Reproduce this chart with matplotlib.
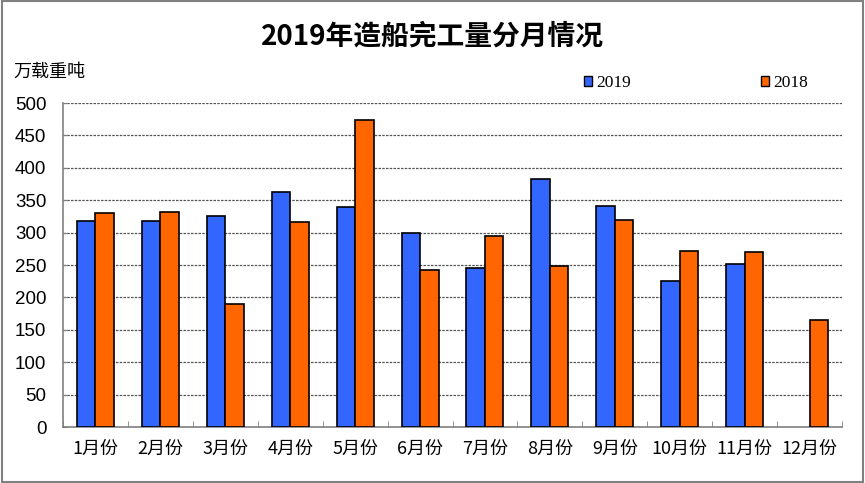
import matplotlib
matplotlib.use("Agg")
import matplotlib.pyplot as plt
import numpy as np
from matplotlib.patches import Rectangle

plt.rcParams['font.family'] = ['Noto Sans CJK SC', 'DejaVu Sans']

months = ["1月份", "2月份", "3月份", "4月份", "5月份", "6月份", "7月份", "8月份", "9月份", "10月份", "11月份", "12月份"]
v2019 = [318, 318, 326, 363, 340, 300, 245, 383, 341, 225, 251, np.nan]
v2018 = [330, 332, 190, 316, 474, 242, 295, 248, 320, 272, 270, 165]
yticks = [0, 50, 100, 150, 200, 250, 300, 350, 400, 450, 500]

c2019 = "#3366FF"
c2018 = "#FF6600"

fig = plt.figure(figsize=(8.65, 4.83), dpi=100)
fig.patches.append(Rectangle((0.002, 0.002), 0.996, 0.996, transform=fig.transFigure,
                             fill=False, edgecolor="#808080", linewidth=1.5))
ax = fig.add_axes([63/865, 1-427/483, (842-63)/865, (427-103)/483])

x = np.arange(len(months))
w = 0.285
ax.bar(x - w/2, v2019, width=w, color=c2019, edgecolor="black", linewidth=1.2, label="2019", zorder=3)
ax.bar(x + w/2, v2018, width=w, color=c2018, edgecolor="black", linewidth=1.2, label="2018", zorder=3)

ax.set_xlim(-0.5, len(months) - 0.5)
ax.set_ylim(0, 500)
ax.set_yticks(yticks)
ax.set_yticklabels([str(t) for t in yticks], fontsize=13.5, family=['Liberation Sans', 'DejaVu Sans'])
ax.yaxis.grid(True, linestyle=(0, (2, 1)), color="#555555", linewidth=0.9, zorder=0)

ax.set_xticks(x)
ax.set_xticklabels(months, fontsize=13)
ax.set_xticks(np.arange(-0.5, len(months)), minor=True)
ax.tick_params(axis='x', which='major', length=0, pad=9)
ax.tick_params(axis='x', which='minor', length=4, direction='in', color="#808080")
ax.tick_params(axis='y', length=3, direction='in', color="#808080", pad=12)

for s in ["top", "right"]:
    ax.spines[s].set_visible(False)
for s in ["left", "bottom"]:
    ax.spines[s].set_color("#808080")
    ax.spines[s].set_linewidth(1.2)

fig.text(0.5, 1-37/483, "2019年造船完工量分月情况", ha="center", va="center", fontsize=20, fontweight="bold")
fig.text(13/865, 1-72/483, "万载重吨", ha="left", va="center", fontsize=13)

leg = fig.legend(loc="center left", bbox_to_anchor=(568/865, 1-83/483), ncol=2,
                 frameon=False, handlelength=0.5, handleheight=0.5,
                 handletextpad=0.2, columnspacing=7.5,
                 prop={'family': ['Liberation Serif', 'DejaVu Serif'], 'size': 12.5})
for h in leg.legend_handles:
    h.set_edgecolor("black")
    h.set_linewidth(1.0)

fig.savefig("out.png", dpi=100)
